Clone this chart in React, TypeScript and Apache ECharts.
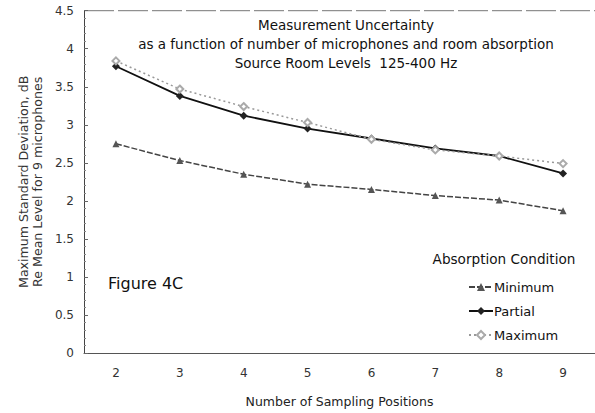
import React, { useEffect, useRef } from "react";
import * as echarts from "echarts";

const categories = ["2", "3", "4", "5", "6", "7", "8", "9"];
const minimumValues = [2.75, 2.53, 2.35, 2.22, 2.15, 2.07, 2.01, 1.87];
const partialValues = [3.77, 3.38, 3.12, 2.95, 2.82, 2.69, 2.59, 2.36];
const maximumValues = [3.84, 3.47, 3.24, 3.03, 2.81, 2.67, 2.59, 2.49];
const titleLines = [
  "Measurement Uncertainty",
  "as a function of number of microphones and room absorption",
  "Source Room Levels  125-400 Hz",
];
const yAxisName = "Maximum Standard Deviation, dB\nRe Mean Level for 9 microphones";
const xAxisName = "Number of Sampling Positions";

const FONT = "'DejaVu Sans', 'Liberation Sans', Arial, sans-serif";

export default function App() {
  const ref = useRef<HTMLDivElement>(null);
  useEffect(() => {
    if (!ref.current) return;
    const chart = echarts.init(ref.current, null, { renderer: "svg" });
    chart.setOption({
      animation: false,
      backgroundColor: "#ffffff",
      textStyle: { fontFamily: FONT },
      grid: { left: 84, top: 10.7, width: 517.6, height: 349.3, containLabel: false },
      xAxis: {
        type: "category",
        data: categories,
        boundaryGap: true,
        name: xAxisName,
        nameLocation: "middle",
        nameGap: 42,
        nameTextStyle: { fontSize: 12.5, color: "#222", fontFamily: FONT },
        axisLine: { lineStyle: { color: "#555", width: 1 } },
        axisTick: { inside: true, length: 4, lineStyle: { color: "#888" } },
        axisLabel: { fontSize: 12, color: "#333", margin: 14, fontFamily: FONT },
      },
      yAxis: {
        type: "value",
        min: 0,
        max: 4.5,
        interval: 0.5,
        name: yAxisName,
        nameLocation: "middle",
        nameRotate: 90,
        nameGap: 33,
        nameTextStyle: { fontSize: 12.6, color: "#333", lineHeight: 13.5, fontFamily: FONT },
        axisLine: { show: true, lineStyle: { color: "#444", width: 1 } },
        axisTick: { show: true, inside: true, length: 4, lineStyle: { color: "#666" } },
        minorTick: { show: true, splitNumber: 5, length: 2, lineStyle: { color: "#888" } },
        splitLine: { show: false },
        axisLabel: { fontSize: 12, color: "#333", margin: 10, fontFamily: FONT },
      },
      legend: {
        orient: "vertical",
        left: 463,
        top: 275,
        itemWidth: 24,
        itemHeight: 10,
        itemGap: 10,
        textStyle: { fontSize: 13, color: "#111", lineHeight: 14, fontFamily: FONT, padding: [0, 0, 0, -4] },
        data: ["Minimum", "Partial", "Maximum"],
      },
      graphic: [
        {
          type: "line",
          shape: { x1: 84, y1: 10.7, x2: 595, y2: 10.7 },
          style: { stroke: "#777", lineWidth: 1, lineDash: [30, 4] },
        },
        ...titleLines.map((t, i) => ({
          type: "text",
          x: 346,
          y: 25 + i * 19,
          style: {
            text: t,
            fontSize: 13.5,
            fill: "#111",
            fontFamily: FONT,
            textAlign: "center",
            textVerticalAlign: "middle",
          },
        })),
        {
          type: "text",
          x: 504,
          y: 259,
          style: {
            text: "Absorption Condition",
            fontSize: 13.6,
            fill: "#111",
            fontFamily: FONT,
            textAlign: "center",
            textVerticalAlign: "middle",
          },
        },
        {
          type: "text",
          x: 108,
          y: 283,
          style: {
            text: "Figure 4C",
            fontSize: 16,
            fill: "#111",
            fontFamily: FONT,
            textAlign: "left",
            textVerticalAlign: "middle",
          },
        },
      ],
      series: [
        {
          name: "Minimum",
          type: "line",
          data: minimumValues,
          symbol: "triangle",
          symbolSize: 7,
          lineStyle: { color: "#444", width: 1.5, type: [6, 2] },
          itemStyle: { color: "#555" },
        },
        {
          name: "Partial",
          type: "line",
          data: partialValues,
          symbol: "diamond",
          symbolSize: 8,
          lineStyle: { color: "#111", width: 1.8, type: "solid" },
          itemStyle: { color: "#222" },
        },
        {
          name: "Maximum",
          type: "line",
          data: maximumValues,
          symbol: "emptyDiamond",
          symbolSize: 7,
          lineStyle: { color: "#999", width: 1.5, type: [2, 3] },
          itemStyle: { color: "#aaa", borderColor: "#aaa" },
        },
      ],
    });
    return () => chart.dispose();
  }, []);
  return (
    <div
      ref={ref}
      style={{ position: "fixed", left: 0, top: 0, width: 595, height: 413 }}
    />
  );
}
